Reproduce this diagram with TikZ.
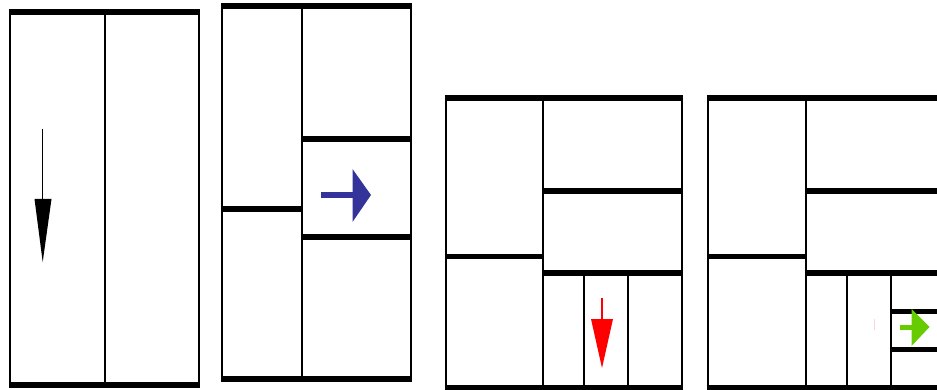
\documentclass[tikz,border=0pt]{standalone}
\definecolor{arrblue}{RGB}{51,51,153}
\definecolor{arrgreen}{RGB}{102,204,0}
\definecolor{faintpink}{RGB}{250,215,215}
\tikzset{
  thin wall/.style={line width=2pt, line cap=butt},
  thick wall/.style={line width=6pt, line cap=butt},
  mid wall/.style={line width=5.5pt, line cap=butt},
  small wall/.style={line width=4.5pt, line cap=butt},
}
\begin{document}
\begin{tikzpicture}[x=1pt,y=-1pt]
\useasboundingbox (0,0) rectangle (937,390);
\clip (0,0) rectangle (937,390);
% ---------- Panel 1 ----------
\draw[thin wall] (10.3,9.3) -- (10.3,388);
\draw[thin wall] (198.7,9.3) -- (198.7,388);
\draw[thin wall] (105.2,9.3) -- (105.2,388);
\draw[thick wall] (9.3,12.5) -- (199.7,12.5);
\draw[thick wall] (9.3,385) -- (199.7,385);
% arrow
\draw[line width=1.3pt] (42.7,129) -- (42.7,205);
\fill (34.5,199) -- (51.5,199) -- (42.7,262) -- cycle;
% ---------- Panel 2 ----------
\draw[thin wall] (222,3) -- (222,382);
\draw[thin wall] (411,3) -- (411,382);
\draw[thin wall] (301.7,3) -- (301.7,382);
\draw[thick wall] (221,6) -- (412,6);
\draw[thick wall] (221,378.5) -- (412,378.5);
\draw[thick wall] (222,209.5) -- (301.7,209.5);
\draw[thick wall] (301.7,139) -- (411,139);
\draw[thick wall] (301.7,237.5) -- (411,237.5);
% arrow
\draw[arrblue, line width=6pt] (321,195) -- (356,195);
\fill[arrblue] (352.5,169) -- (371,195) -- (352.5,222) -- cycle;
% ---------- Panel 3 ----------
\draw[thin wall] (445.8,95) -- (445.8,390);
\draw[thin wall] (681.7,95) -- (681.7,390);
\draw[thin wall] (543.3,95) -- (543.3,390);
\draw[thin wall] (584.2,273) -- (584.2,390);
\draw[thin wall] (627.5,273) -- (627.5,390);
\draw[mid wall] (444.7,98) -- (682.7,98);
\draw[mid wall] (444.7,387.5) -- (682.7,387.5);
\draw[mid wall] (445.8,256.3) -- (543.3,256.3);
\draw[mid wall] (543.3,191) -- (681.7,191);
\draw[mid wall] (543.3,273) -- (681.7,273);
% arrow
\draw[red, line width=2pt] (602,298) -- (602,325);
\fill[red] (591,319) -- (613,319) -- (602,368) -- cycle;
% ---------- Panel 4 ----------
\draw[thin wall] (707.5,95) -- (707.5,390);
\draw[thin wall] (805.5,95) -- (805.5,390);
\draw[thin wall] (846.5,273) -- (846.5,390);
\draw[thin wall] (890.5,273) -- (890.5,390);
\draw[mid wall] (706.5,98) -- (937,98);
\draw[mid wall] (706.5,387.5) -- (937,387.5);
\draw[mid wall] (707.5,256.3) -- (805.5,256.3);
\draw[mid wall] (805.5,191) -- (937,191);
\draw[mid wall] (805.5,273) -- (937,273);
\draw[small wall] (890.5,311.5) -- (937,311.5);
\draw[small wall] (890.5,349.5) -- (937,349.5);
% faint mark
\draw[faintpink, line width=1pt] (874.3,319) -- (874.3,330);
% arrow
\draw[arrgreen, line width=5pt] (900,327) -- (914,327);
\fill[arrgreen] (911.5,309) -- (929.5,327) -- (911.5,346) -- cycle;
\end{tikzpicture}
\end{document}
